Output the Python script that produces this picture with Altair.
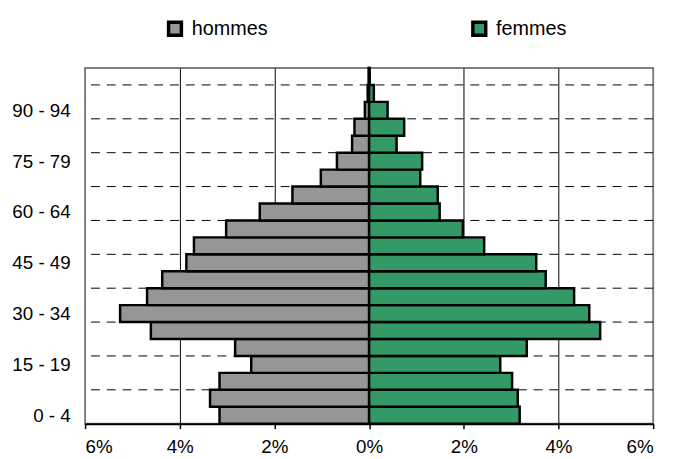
import altair as alt
import pandas as pd

ages = ["0 - 4", "5 - 9", "10 - 14", "15 - 19", "20 - 24", "25 - 29", "30 - 34",
        "35 - 39", "40 - 44", "45 - 49", "50 - 54", "55 - 59", "60 - 64", "65 - 69",
        "70 - 74", "75 - 79", "80 - 84", "85 - 89", "90 - 94", "95 - 99", "100 +"]
hommes = [3.16, 3.36, 3.16, 2.49, 2.83, 4.61, 5.26, 4.69, 4.37, 3.86, 3.70,
          3.02, 2.31, 1.62, 1.02, 0.68, 0.36, 0.31, 0.09, 0.03, 0.01]
femmes = [3.18, 3.14, 3.02, 2.77, 3.33, 4.88, 4.65, 4.33, 3.73, 3.53, 2.43,
          1.98, 1.49, 1.45, 1.08, 1.12, 0.58, 0.74, 0.39, 0.10, 0.01]
x_ticks = [-6, -4, -2, 0, 2, 4, 6]
label_positions = [0.5, 3.5, 6.5, 9.5, 12.5, 15.5, 18.5]
dash_levels = [2, 4, 6, 8, 10, 12, 14, 16, 18, 20]
series = ["hommes", "femmes"]
colors = ["#969696", "#339966"]

rows = []
for i, (a, h, f) in enumerate(zip(ages, hommes, femmes)):
    rows.append({"age": a, "idx": i, "idx2": i + 1, "sexe": "hommes", "start": -h, "end": 0.0})
    rows.append({"age": a, "idx": i, "idx2": i + 1, "sexe": "femmes", "start": 0.0, "end": f})
df = pd.DataFrame(rows)
df_dash = pd.DataFrame({"lvl": dash_levels})

label_expr = "[" + ",".join("'" + a + "'" for a in ages) + "][floor(datum.value)]"
FONT = "Liberation Sans"

yscale = alt.Scale(domain=[0, len(ages)], nice=False, zero=False)
xscale = alt.Scale(domain=[-6, 6], nice=False)

dashes = alt.Chart(df_dash).mark_rule(
    color="black", strokeWidth=1, strokeDash=[9, 7]
).encode(
    y=alt.Y("lvl:Q", scale=yscale)
)

bars = alt.Chart(df).mark_bar(
    stroke="black", strokeWidth=2.5, opacity=1
).encode(
    x=alt.X("start:Q", scale=xscale, title=None,
            axis=alt.Axis(values=x_ticks, labelExpr="abs(datum.value) + '%'",
                          labelFont=FONT, labelFontSize=19, labelColor="black",
                          domainColor="black", domainWidth=2,
                          tickColor="black", tickWidth=1.5, tickSize=5,
                          labelPadding=9,
                          grid=True,
                          gridColor={"condition": {"test": "abs(datum.value) == 6", "value": "transparent"}, "value": "black"},
                          gridWidth=1)),
    x2="end:Q",
    y=alt.Y("idx:Q", scale=yscale, title=None,
            axis=alt.Axis(values=label_positions, labelExpr=label_expr,
                          labelFont=FONT, labelFontSize=19, labelColor="black",
                          domain=False, ticks=False, grid=False, labelPadding=15)),
    y2="idx2:Q",
    color=alt.Color("sexe:N", scale=alt.Scale(domain=series, range=colors), sort=series,
                    legend=alt.Legend(orient="none", legendX=81, legendY=-50,
                                      direction="horizontal", title=None,
                                      symbolType="square", symbolSize=169,
                                      symbolStrokeColor="black", symbolStrokeWidth=3.5,
                                      labelFont=FONT, labelFontSize=20, labelColor="black",
                                      labelOffset=7, columnPadding=200, padding=0,
                                      symbolOffset=0))
)

chart = alt.layer(dashes, bars).properties(
    width=575, height=360,
    autosize=alt.AutoSizeParams(type="none"),
    padding={"left": 78, "top": 58, "right": 15, "bottom": 33},
    background="white"
).configure_view(
    stroke="#808080", strokeWidth=2
)

chart.save("out.html", embed_options={"renderer": "svg", "actions": False})
